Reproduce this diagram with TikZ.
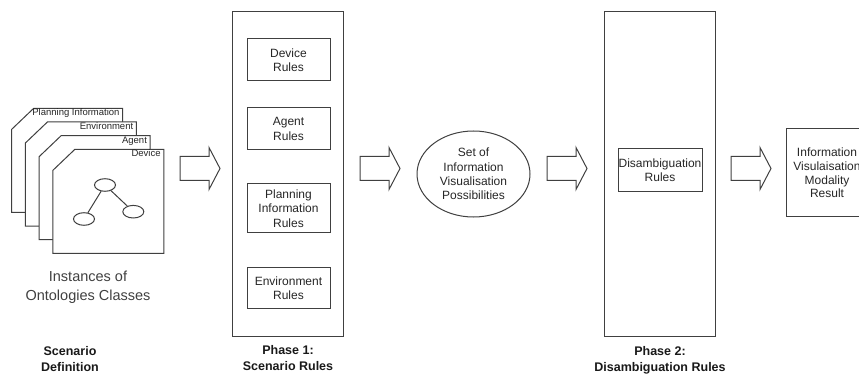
\documentclass[tikz,border=0pt]{standalone}
\usepackage{fontspec}
\setmainfont{Liberation Sans}
\usetikzlibrary{shapes.geometric, positioning, calc}

\tikzset{
  ink/.style={draw=black!75, line width=1pt},
  page/.style={ink, fill=white, line join=miter},
  tablabel/.style={font=\fontsize{9.5}{11}\selectfont, inner sep=0pt, text=black!85},
  rulebox/.style={ink, rectangle, minimum width=83pt, inner sep=0pt, align=center,
    font=\fontsize{12}{14.4}\selectfont, text=black!85},
  phasebox/.style={ink, rectangle, minimum width=111pt, minimum height=324pt, inner sep=0pt},
  blob/.style={ink, ellipse, minimum width=21pt, minimum height=12.6pt, inner sep=0pt},
  caption/.style={font=\bfseries\fontsize{12.5}{16}\selectfont, align=center, inner sep=0pt, text=black!90},
  blockarrow/.pic={
    \draw[ink, line join=miter] (0,-12) -- (29,-12) -- (29,-21) -- (40,0)
      -- (29,21) -- (29,12) -- (0,12) -- cycle;
  }
}

\begin{document}
\begin{tikzpicture}[x=1pt, y=-1pt, line cap=round]
      \useasboundingbox (0,0) rectangle (859,374);
      \clip (0,0) rectangle (859,374);
      % stack of ontology class sheets
      \foreach \k/\lbl in {0/Planning Information, 1/Environment, 2/Agent, 3/Device} {
        \pgfmathsetmacro\L{11.7+13.7*\k}
        \pgfmathsetmacro\T{108.3+13.7*\k}
        \filldraw[page] (\L,\T) ++(0,21) -- ++(22,-21) -- ++(89,0) -- ++(0,104) -- ++(-111,0) -- cycle;
        \node[tablabel, anchor=base east] at (\L+108,\T+7.6) {\lbl};
      }
      \node[blob] (top) at (105,185) {};
      \node[blob] (lft) at (84,219) {};
      \node[blob] (rgt) at (133.3,211.7) {};
      \draw[ink] (top) -- (lft);
      \draw[ink] (top) -- (rgt);
      \node[align=center, inner sep=0pt, text=black!75, font=\fontsize{14.5}{19}\selectfont]
        (inst) at (88,287.5) {Instances of\\Ontologies Classes};
      \node[caption] (cap0) at (70,359) {Scenario\\Definition};
      % phase 1
      \node[phasebox] (ph1) at (288,174) {};
      \node[rulebox, minimum height=42pt] (dev) at (288.5,60) {Device\\Rules};
      \node[rulebox, minimum height=42pt] (agt) at (288.5,129) {Agent\\Rules};
      \node[rulebox, minimum height=49pt] (pln) at (288.5,208.4) {Planning\\Information\\Rules};
      \node[rulebox, minimum height=40.5pt] (env) at (288.5,288) {Environment\\Rules};
      \node[caption] (cap1) at (288,358) {Phase 1:\\Scenario Rules};
      % possibilities
      \node[ink, ellipse, minimum width=113pt, minimum height=86pt, inner sep=0pt, align=center,
        font=\fontsize{12}{14.2}\selectfont, text=black!85] (set) at (473.5,174)
        {Set of\\Information\\Visualisation\\Possibilities};
      % phase 2
      \node[phasebox] (ph2) at (660,174) {};
      \node[rulebox, minimum width=84pt, minimum height=43pt] (dis) at (660,170.5) {Disambiguation\\Rules};
      \node[caption] (cap2) at (660,360) {Phase 2:\\Disambiguation Rules};
      % result
      \node[rulebox, minimum width=82pt, minimum height=88pt, font=\fontsize{12}{13.8}\selectfont]
        (res) at (827,173) {Information\\Visulaisation\\Modality\\Result};
      % block arrows
      \coordinate (a1) at (180,168.5);
      \coordinate (a2) at (360,168.5);
      \coordinate (a3) at (547,168.5);
      \coordinate (a4) at (731,168.5);
      \foreach \a in {a1,a2,a3,a4} \pic at (\a) {blockarrow};
    \end{tikzpicture}
\end{document}
